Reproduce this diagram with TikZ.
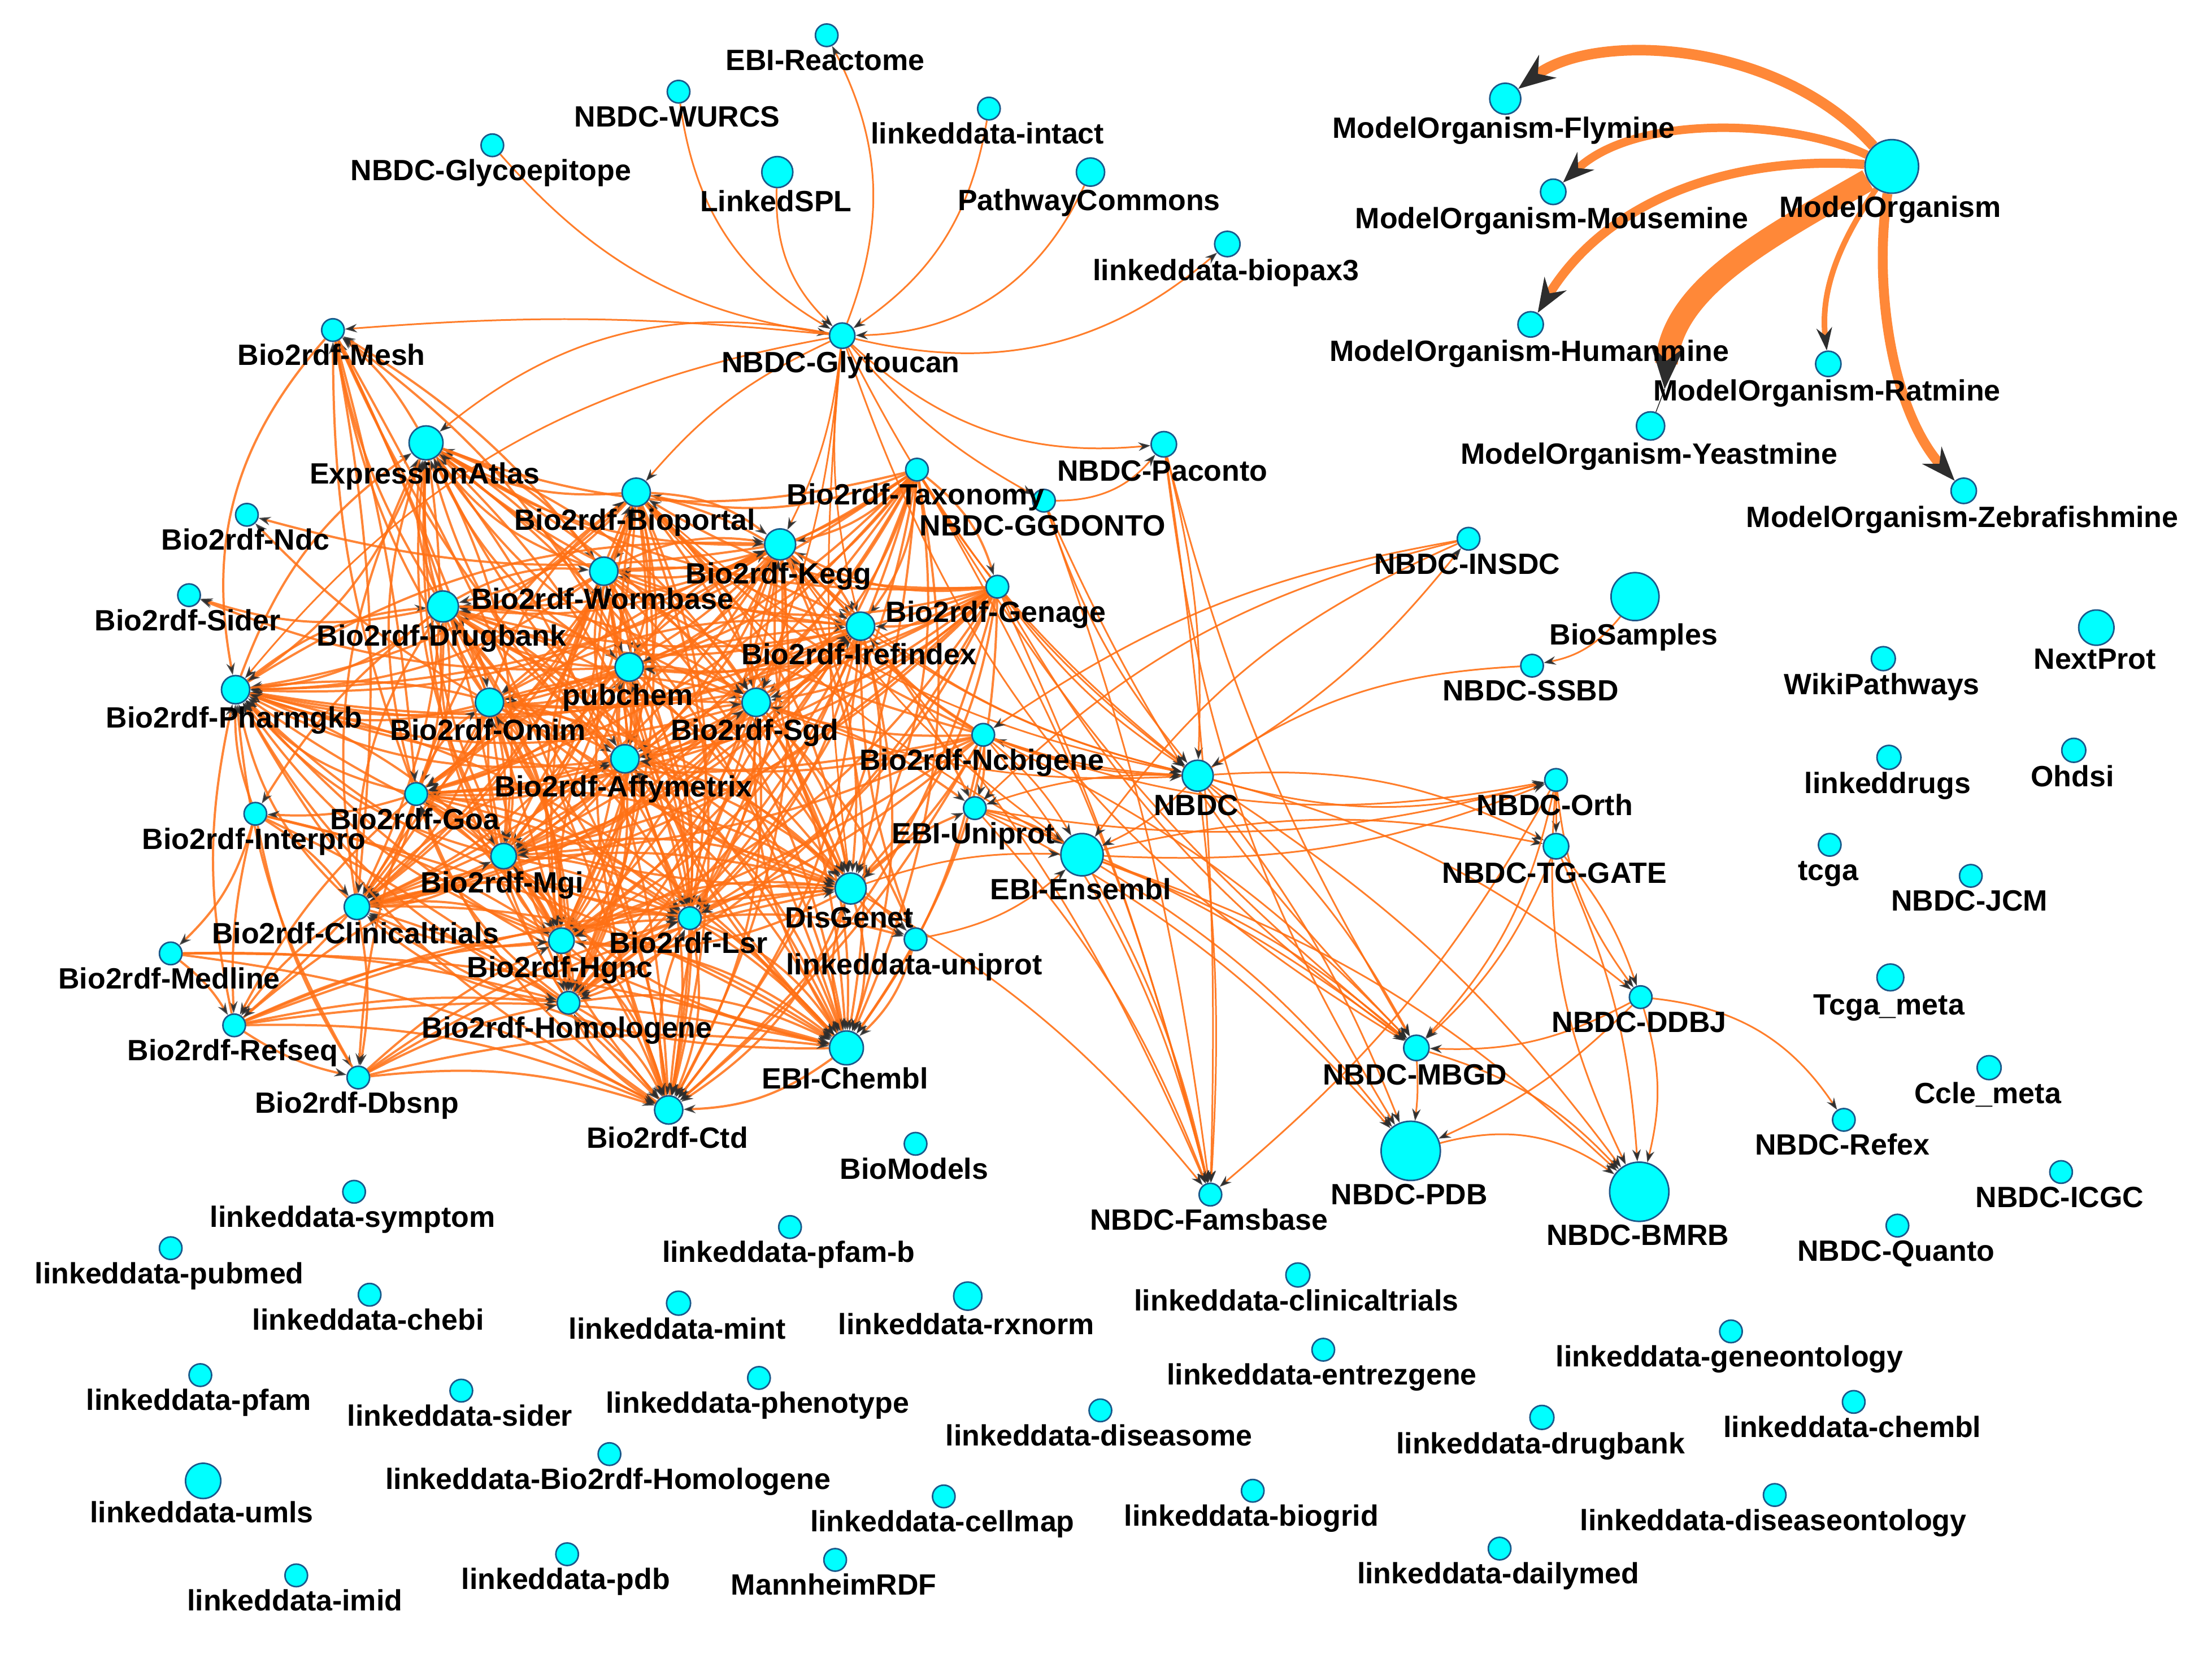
\documentclass[tikz,border=0pt]{standalone}
\usepackage{fontspec}
\setmainfont{Liberation Sans}
\usetikzlibrary{arrows.meta}
\definecolor{eo}{RGB}{255,112,20}
\definecolor{mo}{RGB}{255,136,56}
\definecolor{ah}{RGB}{45,45,45}
\definecolor{cy}{RGB}{0,255,255}
\definecolor{nb}{RGB}{25,90,140}
\pgfdeclarelayer{edges}
\pgfdeclarelayer{labels}
\pgfsetlayers{edges,main,labels}
\newcommand\mynode[5]{%
  \node[nd,minimum size={2*#4}] (#1) at (#2,#3) {};
  \begin{pgfonlayer}{labels}\node[lb] at ({#2-1},{#3+#4+17}) {#5};\end{pgfonlayer}}
\begin{document}
\begin{tikzpicture}[x=1pt,y=-1pt,
  nd/.style={circle,draw=nb,fill=cy,line width=1.1pt,inner sep=0pt},
  lb/.style={anchor=base,inner sep=0pt,font=\fontsize{20.8}{24}\selectfont\bfseries},
  ce/.style={draw=eo,draw opacity=0.85,line width=1.6pt,-{Stealth[length=8.5pt,width=6pt,color=ah]}},
  re/.style={draw=eo,draw opacity=0.9,line width=1.2pt,-{Stealth[length=8.5pt,width=6pt,color=ah]}},
  moe/.style={draw=mo}]
\useasboundingbox (0,0) rectangle (1568,1176);
% ---------- top ----------
\mynode{reac}{586}{25}{8}{EBI-Reactome}
\mynode{wurcs}{481}{65}{8}{NBDC-WURCS}
\mynode{intact}{701}{77}{8}{linkeddata-intact}
\mynode{glyep}{349}{103}{8}{NBDC-Glycoepitope}
\mynode{lspl}{551}{122}{11}{LinkedSPL}
\mynode{pwc}{773}{122}{10}{PathwayCommons}
\mynode{bpx}{870}{173}{9}{linkeddata-biopax3}
\mynode{glyt}{597}{238}{9}{NBDC-Glytoucan}
% ---------- model organism ----------
\mynode{mo}{1341}{118}{19}{ModelOrganism}
\mynode{fly}{1067}{70}{11}{ModelOrganism-Flymine}
\mynode{mouse}{1101}{136}{9}{ModelOrganism-Mousemine}
\mynode{human}{1085}{230}{9}{ModelOrganism-Humanmine}
\mynode{rat}{1296}{258}{9}{ModelOrganism-Ratmine}
\mynode{yeast}{1170}{302}{10}{ModelOrganism-Yeastmine}
\mynode{zebra}{1392}{348}{9}{ModelOrganism-Zebrafishmine}
% ---------- cluster ----------
\mynode{mesh}{236}{234}{8}{Bio2rdf-Mesh}
\mynode{ea}{302}{314}{12}{ExpressionAtlas}
\mynode{ndc}{175}{365}{8}{Bio2rdf-Ndc}
\mynode{sider}{134}{422}{8}{Bio2rdf-Sider}
\mynode{pgkb}{167}{489}{10}{Bio2rdf-Pharmgkb}
\mynode{tax}{650}{333}{8}{Bio2rdf-Taxonomy}
\mynode{ggd}{740}{355}{8}{NBDC-GGDONTO}
\mynode{bp}{451}{349}{10}{Bio2rdf-Bioportal}
\mynode{kegg}{553}{386}{11}{Bio2rdf-Kegg}
\mynode{wb}{428}{405}{10}{Bio2rdf-Wormbase}
\mynode{db}{314}{430}{11}{Bio2rdf-Drugbank}
\mynode{gen}{707}{416}{8}{Bio2rdf-Genage}
\mynode{iref}{610}{444}{10}{Bio2rdf-Irefindex}
\mynode{pc}{446}{473}{10}{pubchem}
\mynode{omim}{347}{498}{10}{Bio2rdf-Omim}
\mynode{sgd}{536}{498}{10}{Bio2rdf-Sgd}
\mynode{ncbi}{697}{521}{8}{Bio2rdf-Ncbigene}
\mynode{affy}{443}{538}{10}{Bio2rdf-Affymetrix}
\mynode{goa}{295}{563}{8}{Bio2rdf-Goa}
\mynode{ipro}{181}{577}{8}{Bio2rdf-Interpro}
\mynode{mgi}{357}{607}{9}{Bio2rdf-Mgi}
\mynode{euni}{691}{573}{8}{EBI-Uniprot}
\mynode{ens}{767}{606}{15}{EBI-Ensembl}
\mynode{ct}{253}{643}{9}{Bio2rdf-Clinicaltrials}
\mynode{lsr}{489}{651}{8}{Bio2rdf-Lsr}
\mynode{dg}{603}{630}{11}{DisGenet}
\mynode{luni}{649}{666}{8}{linkeddata-uniprot}
\mynode{hgnc}{398}{667}{9}{Bio2rdf-Hgnc}
\mynode{med}{121}{676}{8}{Bio2rdf-Medline}
\mynode{homo}{403}{711}{8}{Bio2rdf-Homologene}
\mynode{ref}{166}{727}{8}{Bio2rdf-Refseq}
\mynode{chembl}{600}{743}{12}{EBI-Chembl}
\mynode{dbsnp}{254}{764}{8}{Bio2rdf-Dbsnp}
\mynode{ctd}{474}{787}{10}{Bio2rdf-Ctd}
\mynode{biom}{649}{811}{8}{BioModels}
% ---------- NBDC ----------
\mynode{pac}{825}{315}{9}{NBDC-Paconto}
\mynode{insdc}{1041}{382}{8}{NBDC-INSDC}
\mynode{biosam}{1159}{423}{17}{BioSamples}
\mynode{ssbd}{1086}{472}{8}{NBDC-SSBD}
\mynode{nbdc}{849}{550}{11}{NBDC}
\mynode{orth}{1103}{553}{8}{NBDC-Orth}
\mynode{tgg}{1103}{600}{9}{NBDC-TG-GATE}
\mynode{ddbj}{1163}{707}{8}{NBDC-DDBJ}
\mynode{mbgd}{1004}{743}{9}{NBDC-MBGD}
\mynode{pdb}{1000}{816}{21}{NBDC-PDB}
\mynode{bmrb}{1162}{845}{21}{NBDC-BMRB}
\mynode{fams}{858}{847}{8}{NBDC-Famsbase}
\mynode{refex}{1307}{794}{8}{NBDC-Refex}
% ---------- isolated right ----------
\mynode{nextprot}{1486}{445}{12.5}{NextProt}
\mynode{wiki}{1335}{467}{8.5}{WikiPathways}
\mynode{ohdsi}{1470}{532}{8.5}{Ohdsi}
\mynode{ldrugs}{1339}{537}{8.5}{linkeddrugs}
\mynode{tcga}{1297}{599}{8}{tcga}
\mynode{jcm}{1397}{621}{8}{NBDC-JCM}
\mynode{tcgam}{1340}{693}{9.5}{Tcga\_meta}
\mynode{cclem}{1410}{757}{8.5}{Ccle\_meta}
\mynode{icgc}{1461}{831}{8}{NBDC-ICGC}
\mynode{quanto}{1345}{869}{8}{NBDC-Quanto}
% ---------- isolated bottom ----------
\mynode{symptom}{251}{845}{8}{linkeddata-symptom}
\mynode{pubmed}{121}{885}{8}{linkeddata-pubmed}
\mynode{pfamb}{560}{870}{8}{linkeddata-pfam-b}
\mynode{chebi}{262}{918}{8}{linkeddata-chebi}
\mynode{mint}{481}{924}{8.5}{linkeddata-mint}
\mynode{rxnorm}{686}{919}{10}{linkeddata-rxnorm}
\mynode{lct}{920}{904}{8.5}{linkeddata-clinicaltrials}
\mynode{entrez}{938}{957}{8}{linkeddata-entrezgene}
\mynode{geneont}{1227}{944}{8}{linkeddata-geneontology}
\mynode{pfam}{142}{975}{8}{linkeddata-pfam}
\mynode{lsider}{327}{986}{8}{linkeddata-sider}
\mynode{pheno}{538}{977}{8}{linkeddata-phenotype}
\mynode{diseasome}{780}{1000}{8}{linkeddata-diseasome}
\mynode{ldrugbank}{1093}{1005}{8.5}{linkeddata-drugbank}
\mynode{lchembl}{1314}{994}{8}{linkeddata-chembl}
\mynode{lbhomo}{432}{1031}{8}{linkeddata-Bio2rdf-Homologene}
\mynode{umls}{144}{1050}{12.5}{linkeddata-umls}
\mynode{cellmap}{669}{1061}{8}{linkeddata-cellmap}
\mynode{biogrid}{888}{1057}{8}{linkeddata-biogrid}
\mynode{diseaseont}{1258}{1060}{8}{linkeddata-diseaseontology}
\mynode{imid}{210}{1117}{8}{linkeddata-imid}
\mynode{lpdb}{402}{1102}{8}{linkeddata-pdb}
\mynode{mannheim}{592}{1106}{8}{MannheimRDF}
\mynode{dailymed}{1063}{1098}{8}{linkeddata-dailymed}
% ================= edges =================
\begin{pgfonlayer}{edges}
% model organism
\draw[moe,line width=7.5pt,-{Stealth[length=26pt,width=20pt,color=ah]}] (mo) .. controls (1260,28) and (1130,22) .. (fly);
\draw[moe,line width=6pt,-{Stealth[length=22pt,width=17pt,color=ah]}] (mo) .. controls (1270,85) and (1160,80) .. (mouse);
\draw[moe,line width=6.5pt,-{Stealth[length=24pt,width=18pt,color=ah]}] (mo) .. controls (1230,110) and (1140,140) .. (human);
\coordinate (yt) at (1180,276);
\draw[moe,line width=16pt,-{Stealth[length=30pt,width=23pt,color=ah]}] (mo) .. controls (1250,170) and (1185,205) .. (yt);
\draw[ah,line width=0.6pt] (yt) -- (yeast);
\draw[moe,line width=4pt,-{Stealth[length=16pt,width=11pt,color=ah]}] (mo) .. controls (1305,170) and (1290,205) .. (rat);
\draw[moe,line width=7pt,-{Stealth[length=24pt,width=18pt,color=ah]}] (mo) .. controls (1328,200) and (1340,290) .. (zebra);
% top
\foreach \a/\b/\c in {glyep/glyt/-20, wurcs/glyt/-26, lspl/glyt/-24, intact/glyt/23, pwc/glyt/32,
  glyt/reac/-24, glyt/bpx/-27, glyt/mesh/-5, glyt/ea/-25, glyt/pac/-24, ggd/pac/-25,
  glyt/ggd/-10, glyt/nbdc/-12, glyt/kegg/10, glyt/sgd/8, glyt/iref/-10, glyt/bp/-12,
  glyt/dg/-6, glyt/mbgd/-20, glyt/pgkb/-20}
  \draw[re] (\a) to[bend left=\c] (\b);
% core cluster (complete, plus some reverse edges)
\def\core{tax,gen,bp,wb,kegg,iref,pc,db,omim,sgd,affy,goa,mgi,hgnc,homo,ct,ea,lsr,dg,chembl,ctd,pgkb}
\foreach \u [count=\i] in \core {
  \foreach \v [count=\j] in \core {
    \ifnum\j>\i \draw[ce] (\u) to[bend left=17] (\v); \fi
    \ifnum\i>2 \ifnum\j>\i
      \pgfmathtruncatemacro\rr{mod(\i+\j,3)}
      \ifnum\rr=0 \draw[ce] (\v) to[bend left=17] (\u); \fi
    \fi\fi
  }
}
% peripheral cluster edges
\foreach \a/\b/\c in {ea/mesh/-10, db/mesh/10, omim/mesh/12, pc/mesh/-12, affy/mesh/10, wb/mesh/-10,
  goa/mesh/10, mgi/mesh/-8, mesh/pgkb/-26, mesh/ct/8, mesh/goa/5, mesh/hgnc/5, mesh/ctd/6,
  kegg/ndc/12, omim/ndc/8, db/sider/15, pc/sider/12,
  goa/ipro/10, db/ipro/-10, ipro/med/15, ipro/ct/10, ipro/ref/-8, ipro/dbsnp/-10, ipro/hgnc/10,
  ipro/ctd/10, ipro/chembl/8, ipro/pgkb/10, med/homo/8, med/ctd/10, med/ref/10, med/chembl/8,
  ct/ref/-10, goa/ref/-10, ref/homo/8, ref/ctd/12, ref/chembl/10, ref/hgnc/10, ref/mgi/8,
  ref/dbsnp/-10, ref/lsr/10, ref/dg/8, omim/ref/10, ref/pgkb/12,
  ct/dbsnp/10, dbsnp/ctd/12, dbsnp/chembl/10, dbsnp/homo/8, dbsnp/hgnc/8, dbsnp/lsr/10,
  dbsnp/dg/10, goa/dbsnp/-8, dbsnp/pgkb/12,
  dg/luni/-15, lsr/luni/10, sgd/luni/10, affy/luni/12, iref/luni/-10, luni/chembl/15,
  dg/euni/10, sgd/euni/10, kegg/euni/10,
  ncbi/ea/12, ncbi/bp/10, ncbi/kegg/10, ncbi/pgkb/15, ncbi/dg/10, ncbi/chembl/12, ncbi/ctd/10,
  ncbi/lsr/8, ncbi/sgd/10, ncbi/mgi/10, ncbi/hgnc/8, ncbi/euni/10, ncbi/iref/10, ncbi/affy/12}
  \draw[ce] (\a) to[bend left=\c] (\b);
% NBDC side
\foreach \a/\b/\c in {pac/nbdc/8, pac/fams/5, pac/mbgd/-8, pac/pdb/-12, ggd/nbdc/-10, ggd/fams/6,
  ggd/mbgd/-10, tax/nbdc/-10, tax/fams/8, tax/mbgd/-10, kegg/nbdc/-15, bp/nbdc/-15,
  gen/nbdc/-10, gen/mbgd/-12, gen/fams/5, iref/nbdc/-10, sgd/nbdc/-12, kegg/ens/-10,
  iref/fams/8, bp/ens/-10, dg/fams/10,
  nbdc/insdc/-10, insdc/ens/-15, insdc/ncbi/-12, insdc/euni/-15,
  biosam/ssbd/20, ssbd/nbdc/-15,
  nbdc/orth/-15, nbdc/tgg/15, nbdc/mbgd/10, nbdc/pdb/8, nbdc/bmrb/10, nbdc/fams/5,
  nbdc/ddbj/12, nbdc/ens/10, nbdc/euni/-10, nbdc/ncbi/10,
  ens/orth/-12, ens/tgg/12, ens/mbgd/10, ens/fams/8, ens/pdb/10, ens/bmrb/12,
  ncbi/orth/-15, ncbi/nbdc/-8, ncbi/ens/10, ncbi/mbgd/10, ncbi/fams/12,
  euni/orth/-12, euni/fams/10, euni/ens/10, euni/mbgd/8, euni/pdb/10,
  orth/tgg/0, orth/mbgd/15, orth/ddbj/-15, orth/bmrb/-15, orth/fams/10,
  tgg/mbgd/12, tgg/ddbj/10, tgg/bmrb/10,
  ddbj/mbgd/15, ddbj/pdb/10, ddbj/bmrb/15, ddbj/refex/25,
  mbgd/pdb/5, mbgd/bmrb/15, pdb/bmrb/25, luni/ens/-15, dg/ens/10}
  \draw[re] (\a) to[bend left=\c] (\b);
\end{pgfonlayer}
\end{tikzpicture}
\end{document}
